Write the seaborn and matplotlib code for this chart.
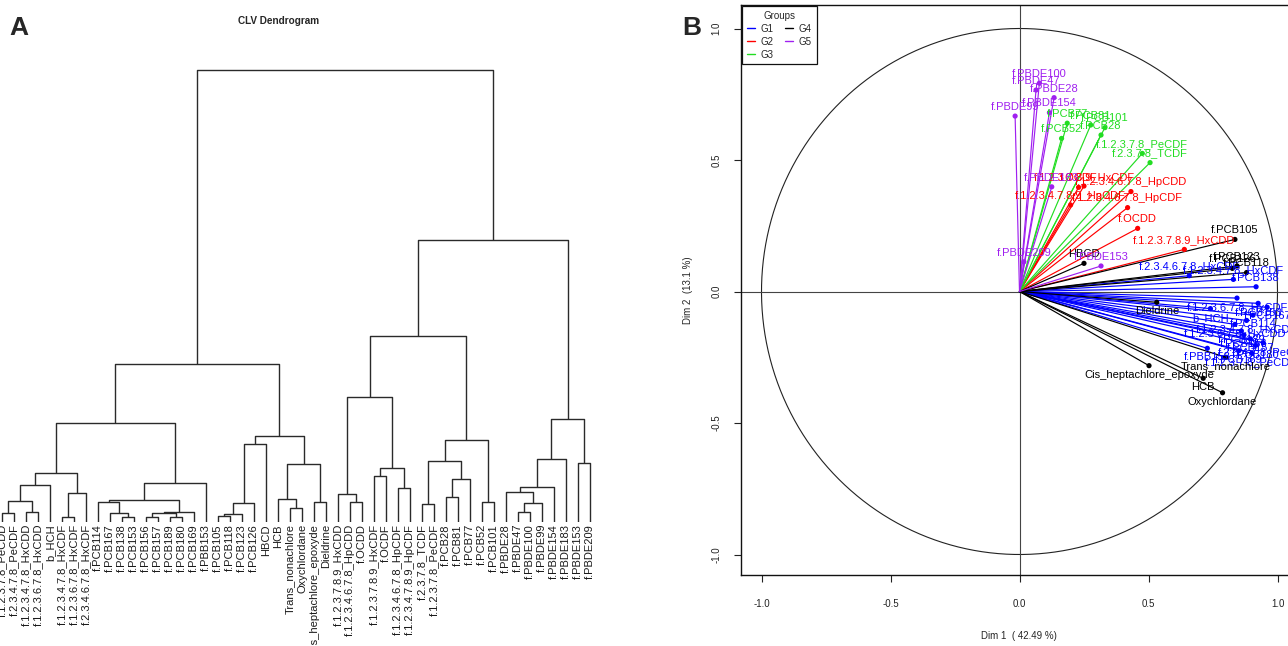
import numpy as np
import pandas as pd
import seaborn as sns
import matplotlib.pyplot as plt
from matplotlib.lines import Line2D

# ---------------- A: CLV dendrogram (left, right, merge height) ----------------
diox_a = (((("f.1.2.3.7.8_PeCDD", "f.2.3.4.7.8_PeCDF", 0.09),
            ("f.1.2.3.4.7.8_HxCDD", "f.1.2.3.6.7.8_HxCDD", 0.10), 0.21),
           "b_HCH", 0.37),
          (("f.1.2.3.4.7.8_HxCDF", "f.1.2.3.6.7.8_HxCDF", 0.05),
           "f.2.3.4.6.7.8_HxCDF", 0.29), 0.49)
pcb_high = (((("f.PCB114", ("f.PCB167", ("f.PCB138", "f.PCB153", 0.05), 0.09), 0.20),
              (((("f.PCB156", "f.PCB157", 0.05), ("f.PCB189", "f.PCB180", 0.05), 0.09),
                "f.PCB169", 0.10)), 0.22),
             "f.PBB153", 0.39))
others = (((((("f.PCB105", "f.PCB118", 0.06), "f.PCB123", 0.08), "f.PCB126", 0.19), "HBCD", 0.78),
           (("HCB", ("Trans_nonachlore", "Oxychlordane", 0.14), 0.23),
            ("Cis_heptachlore_epoxyde", "Dieldrine", 0.20), 0.58), 0.86))
diox_b = (("f.1.2.3.7.8.9_HxCDD", ("f.1.2.3.4.6.7.8_HpCDD", "f.OCDD", 0.20), 0.28),
          (("f.1.2.3.7.8.9_HxCDF", "f.OCDF", 0.46),
           ("f.1.2.3.4.6.7.8_HpCDF", "f.1.2.3.4.7.8.9_HpCDF", 0.34), 0.54), 1.25)
pcb_low = (((("f.2.3.7.8_TCDF", "f.1.2.3.7.8_PeCDF", 0.18),
             (("f.PCB28", "f.PCB81", 0.25), "f.PCB77", 0.43), 0.61),
            ("f.PCB52", "f.PCB101", 0.20), 0.82))
pbde = ((((("f.PBDE28", (("f.PBDE47", "f.PBDE100", 0.10), "f.PBDE99", 0.19), 0.30),
           "f.PBDE154", 0.35), "f.PBDE183", 0.63),
         ("f.PBDE153", "f.PBDE209", 0.59), 1.03))
tree = ((((diox_a, pcb_high, 0.99), others, 1.58),
         ((diox_b, pcb_low, 1.86), pbde, 2.82), 4.52))

# ---------------- B: variables factor map ----------------
var_names = ["f.1.2.3.7.8_PeCDD", "f.2.3.4.7.8_PeCDF", "f.1.2.3.4.7.8_HxCDD", "f.1.2.3.6.7.8_HxCDD",
             "b_HCH", "f.1.2.3.4.7.8_HxCDF", "f.1.2.3.6.7.8_HxCDF", "f.2.3.4.6.7.8_HxCDF",
             "f.PCB114", "f.PCB167", "f.PCB138", "f.PCB153", "f.PCB156", "f.PCB157",
             "f.PCB189", "f.PCB180", "f.PCB169", "f.PBB153",
             "f.1.2.3.7.8.9_HxCDD", "f.1.2.3.4.6.7.8_HpCDD", "f.OCDD", "f.1.2.3.7.8.9_HxCDF",
             "f.OCDF", "f.1.2.3.4.6.7.8_HpCDF", "f.1.2.3.4.7.8.9_HpCDF",
             "f.2.3.7.8_TCDF", "f.1.2.3.7.8_PeCDF", "f.PCB28", "f.PCB81", "f.PCB77", "f.PCB52", "f.PCB101",
             "f.PCB105", "f.PCB118", "f.PCB123", "f.PCB126", "HBCD", "HCB", "Trans_nonachlore",
             "Oxychlordane", "Cis_heptachlore_epoxyde", "Dieldrine",
             "f.PBDE28", "f.PBDE47", "f.PBDE100", "f.PBDE99", "f.PBDE154", "f.PBDE183",
             "f.PBDE153", "f.PBDE209"]
dim1 = [0.900, 0.945, 0.880, 0.835, 0.740, 0.829, 0.843, 0.658,
        0.905, 0.960, 0.917, 0.925, 0.870, 0.895, 0.860, 0.915, 0.850, 0.728,
        0.639, 0.432, 0.458, 0.250, 0.229, 0.419, 0.198,
        0.506, 0.476, 0.316, 0.276, 0.185, 0.163, 0.331,
        0.835, 0.880, 0.843, 0.825, 0.250, 0.712, 0.799, 0.787, 0.502, 0.532,
        0.134, 0.064, 0.077, -0.017, 0.116, 0.125, 0.316, 0.017]
dim2 = [-0.235, -0.195, -0.110, -0.125, -0.065, 0.046, -0.025, 0.060,
        -0.090, -0.060, 0.018, -0.045, -0.165, -0.180, -0.150, -0.205, -0.225, -0.216,
        0.160, 0.380, 0.240, 0.401, 0.396, 0.319, 0.329,
        0.490, 0.525, 0.595, 0.633, 0.640, 0.582, 0.623,
        0.198, 0.072, 0.097, 0.088, 0.107, -0.330, -0.250, -0.385, -0.282, -0.041,
        0.737, 0.766, 0.792, 0.667, 0.680, 0.398, 0.097, 0.113]
groups = ["G1"] * 18 + ["G2"] * 7 + ["G3"] * 7 + ["G4"] * 10 + ["G5"] * 8
group_levels = ["G1", "G2", "G3", "G4", "G5"]
group_colors = {"G1": "#0000FF", "G2": "#FF0000", "G3": "#22DD22", "G4": "#000000", "G5": "#A020F0"}
axis_ticks = [-1.0, -0.5, 0.0, 0.5, 1.0]

sns.set_style("white")
plt.rcParams["font.family"] = ["Liberation Sans", "DejaVu Sans"]

W, H = 1288, 646
fig = plt.figure(figsize=(W / 100, H / 100), dpi=100)


def px_box(x0, y0, x1, y1):
    return [x0 / W, 1 - y1 / H, (x1 - x0) / W, (y1 - y0) / H]


# ---- dendrogram ----
ax1 = fig.add_axes(px_box(0, 60, 600, 522))
leaves = []


def draw(node):
    if isinstance(node, str):
        leaves.append(node)
        return len(leaves) - 1, 0.0
    left, right, h = node
    xl, hl = draw(left)
    xr, hr = draw(right)
    ax1.plot([xl, xl, xr, xr], [hl, h, h, hr], color="#2a2a2a", lw=1.0,
             solid_capstyle="butt")
    return (xl + xr) / 2, h


draw(tree)
for i, name in enumerate(leaves):
    ax1.text(i, -0.02, name, rotation=90, ha="center", va="top", fontsize=8,
             color="#1a1a1a", clip_on=False)
ax1.set_xlim(-2 / 12, 598 / 12)
ax1.set_ylim(0, 4.62)
ax1.axis("off")

fig.text(279 / W, 1 - 21 / H, "CLV Dendrogram", ha="center", va="center",
         fontsize=7.2, fontweight="bold")
fig.text(9 / W, 1 - 35 / H, "A", fontsize=19, fontweight="bold", va="baseline")
fig.text(682 / W, 1 - 35 / H, "B", fontsize=19, fontweight="bold", va="baseline")

# ---- correlation circle ----
df = pd.DataFrame({"var": var_names, "dim1": dim1, "dim2": dim2, "group": groups})
ax2 = fig.add_axes(px_box(741, 5, 1300, 575))
theta = np.linspace(0, 2 * np.pi, 400)
ax2.plot(np.cos(theta), np.sin(theta), color="#222222", lw=0.8)
ax2.axhline(0, color="#444444", lw=0.8)
ax2.axvline(0, color="#444444", lw=0.8)
for _, r in df.iterrows():
    c = group_colors[r["group"]]
    ax2.plot([0, r["dim1"]], [0, r["dim2"]], color=c, lw=0.85)
sns.scatterplot(data=df, x="dim1", y="dim2", hue="group", palette=group_colors,
                hue_order=group_levels, s=14, linewidth=0, legend=False, ax=ax2, zorder=3)
for _, r in df.iterrows():
    c = group_colors[r["group"]]
    up = r["dim2"] > 0
    ax2.annotate(r["var"], (r["dim1"], r["dim2"]), xytext=(0, 3 if up else -3),
                 textcoords="offset points", ha="center", va="bottom" if up else "top",
                 color=c, fontsize=8, zorder=4)

ax2.set_xlim((741 - 1019.5) / 258, (1300 - 1019.5) / 258)
ax2.set_ylim(-(575 - 291.5) / 263, (291.5 - 5) / 263)
ax2.set_xticks(axis_ticks)
ax2.set_xticklabels([f"{t:.1f}" for t in axis_ticks])
ax2.set_yticks(axis_ticks)
ax2.set_yticklabels([f"{t:.1f}" for t in axis_ticks], rotation=90, va="center")
ax2.tick_params(axis="both", direction="out", length=5, width=0.8, labelsize=7,
                colors="#222222", bottom=True, left=True)
ax2.tick_params(axis="x", pad=12)
ax2.tick_params(axis="y", pad=9)
ax2.set_xlabel("")
ax2.set_ylabel("")
for s in ax2.spines.values():
    s.set_color("#111111")
    s.set_linewidth(1.0)

fig.text(1019 / W, 1 - 636 / H, "Dim 1  ( 42.49 %)", ha="center", va="center", fontsize=7)
fig.text(688 / W, 1 - 290 / H, "Dim 2  (13.1 %)", ha="center", va="center",
         fontsize=7, rotation=90)

handles = [Line2D([], [], color=group_colors[g], lw=1.0) for g in group_levels]
leg = ax2.legend(handles, group_levels, title="Groups", ncol=2, loc="upper left",
                 fontsize=7, title_fontsize=7, handlelength=0.8, handletextpad=0.6,
                 columnspacing=1.2, labelspacing=0.3, borderaxespad=0.1,
                 frameon=True, fancybox=False, framealpha=1, edgecolor="#111111",
                 borderpad=0.5)
leg.get_frame().set_linewidth(0.9)

fig.savefig("out.png", dpi=100)
